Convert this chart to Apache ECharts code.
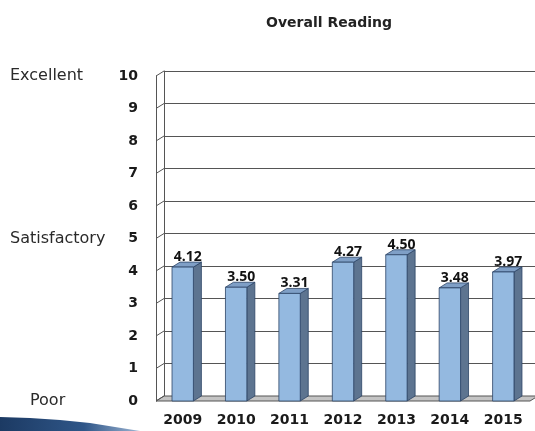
<!DOCTYPE html>
<html>
<head>
<meta charset="utf-8">
<style>
  html, body { margin: 0; padding: 0; background: #fff; }
  #chart { width: 535px; height: 431px; }
</style>
<script src="https://cdn.jsdelivr.net/npm/echarts@6/dist/echarts.min.js"></script>
</head>
<body>
<div id="chart"></div>
<script>
// Overall Reading scores by year
const years = ['2009', '2010', '2011', '2012', '2013', '2014', '2015'];
const scores = [4.12, 3.50, 3.31, 4.27, 4.50, 3.48, 3.97];
const yTicks = [0, 1, 2, 3, 4, 5, 6, 7, 8, 9, 10];
const ratingLabels = { 10: 'Excellent', 5: 'Satisfactory', 0: 'Poor' };

const FONT = '"DejaVu Sans", Verdana, sans-serif';
const LABEL_FONT = '"Open Sans", "DejaVu Sans", sans-serif';
const FRONT = '#94b9e0';
const SIDE = '#5d7490';
const TOP = '#7f9fc6';
const EDGE = '#2c4466';
const DX = 8, DY = -5;   // depth offset of the 3D walls and bars

const chart = echarts.init(document.getElementById('chart'));

function renderBar(params, api) {
  const cat = api.value(0), v = api.value(1);
  const top = api.coord([cat, v]);
  const base = api.coord([cat, 0]);
  const w = api.size([1, 0])[0] * 0.4;
  const l = top[0] - w / 2, r = top[0] + w / 2;
  const t = top[1], b = base[1];
  return {
    type: 'group',
    children: [
      { type: 'polygon', shape: { points: [[r, t], [r + DX, t + DY], [r + DX, b + DY], [r, b]] },
        style: { fill: SIDE, stroke: EDGE, lineWidth: 0.8 } },
      { type: 'polygon', shape: { points: [[l, t], [l + DX, t + DY], [r + DX, t + DY], [r, t]] },
        style: { fill: TOP, stroke: EDGE, lineWidth: 0.8 } },
      { type: 'rect', shape: { x: l, y: t, width: w, height: b - t },
        style: { fill: FRONT, stroke: EDGE, lineWidth: 0.8 } },
      { type: 'text', z2: 10,
        style: { text: v.toFixed(2), x: top[0] + 5, y: t - 3, align: 'center', verticalAlign: 'bottom',
                 font: 'bold 14px ' + LABEL_FONT, fill: '#111' } }
    ]
  };
}

function renderFloor(params, api) {
  const cs = params.coordSys;
  const yb = cs.y + cs.height;
  return {
    type: 'polygon',
    shape: { points: [[cs.x, yb], [cs.x + DX, yb + DY], [cs.x + cs.width + DX, yb + DY], [cs.x + cs.width, yb]] },
    style: { fill: '#c4c4c4', stroke: '#555', lineWidth: 1 }
  };
}

function renderWallTick(params, api) {
  const cs = params.coordSys;
  const y = api.coord([0, api.value(0)])[1];
  return {
    type: 'line',
    shape: { x1: cs.x, y1: y, x2: cs.x + DX, y2: y + DY },
    style: { stroke: '#555', lineWidth: 1 }
  };
}

chart.setOption({
  animation: false,
  backgroundColor: '#fff',
  title: {
    text: 'Overall Reading', left: 324, top: 11, textAlign: 'center',
    textStyle: { fontFamily: FONT, fontWeight: 'bold', fontSize: 14, color: '#222' }
  },
  graphic: [{
    type: 'polygon', z: 100,
    shape: { points: [[0, 417], [30, 418], [60, 420], [90, 423], [115, 427], [140, 431], [0, 431]] },
    style: {
      fill: {
        type: 'linear', x: 0, y: 0, x2: 1, y2: 0,
        colorStops: [
          { offset: 0, color: '#1c3a63' }, { offset: 0.6, color: '#2f5688' }, { offset: 1, color: '#9db5d3' }
        ]
      }
    }
  }],
  grid: [
    { left: 156, top: 76, width: 374, height: 325 },             // front plane (bars, labels)
    { left: 156 + DX, top: 76 + DY, width: 400, height: 325 }     // back wall (gridlines)
  ],
  xAxis: [
    { type: 'category', gridIndex: 0, data: years,
      axisLine: { show: false }, axisTick: { show: false },
      axisLabel: { fontFamily: FONT, fontWeight: 'bold', fontSize: 14, color: '#1a1a1a', margin: 12 } },
    { type: 'category', gridIndex: 1, data: years, show: false }
  ],
  yAxis: [
    { type: 'value', gridIndex: 0, min: 0, max: 10, interval: 1,
      axisLine: { show: true, lineStyle: { color: '#555', width: 1 } },
      axisTick: { show: false }, splitLine: { show: false },
      axisLabel: { fontFamily: FONT, fontWeight: 'bold', fontSize: 14, color: '#1a1a1a', margin: 18 } },
    { type: 'value', gridIndex: 0, min: 0, max: 10, interval: 1, position: 'left', offset: 138,
      axisLine: { show: false }, axisTick: { show: false }, splitLine: { show: false },
      axisLabel: {
        align: 'left', fontFamily: FONT, fontSize: 16, color: '#2a2a2a',
        formatter: v => ratingLabels[v] === 'Poor' ? '{p|Poor}' : (ratingLabels[v] || ''),
        rich: { p: { padding: [0, 0, 0, 20], fontFamily: FONT, fontSize: 16, color: '#2a2a2a' } }
      } },
    { type: 'value', gridIndex: 1, min: 0, max: 10, interval: 1,
      axisLine: { show: true, lineStyle: { color: '#555', width: 1 } },
      axisTick: { show: false }, axisLabel: { show: false },
      splitLine: { show: true, lineStyle: { color: '#555', width: 1.2 } } }
  ],
  series: [
    { type: 'custom', xAxisIndex: 0, yAxisIndex: 0, z: 1, data: [[0]], renderItem: renderFloor, silent: true },
    { type: 'custom', xAxisIndex: 0, yAxisIndex: 0, z: 1, data: yTicks.map(v => [v]),
      encode: { y: 0 }, renderItem: renderWallTick, silent: true },
    { type: 'custom', xAxisIndex: 0, yAxisIndex: 0, z: 3,
      data: years.map((y, i) => [i, scores[i]]), encode: { x: 0, y: 1 }, renderItem: renderBar }
  ]
});
</script>
</body>
</html>
